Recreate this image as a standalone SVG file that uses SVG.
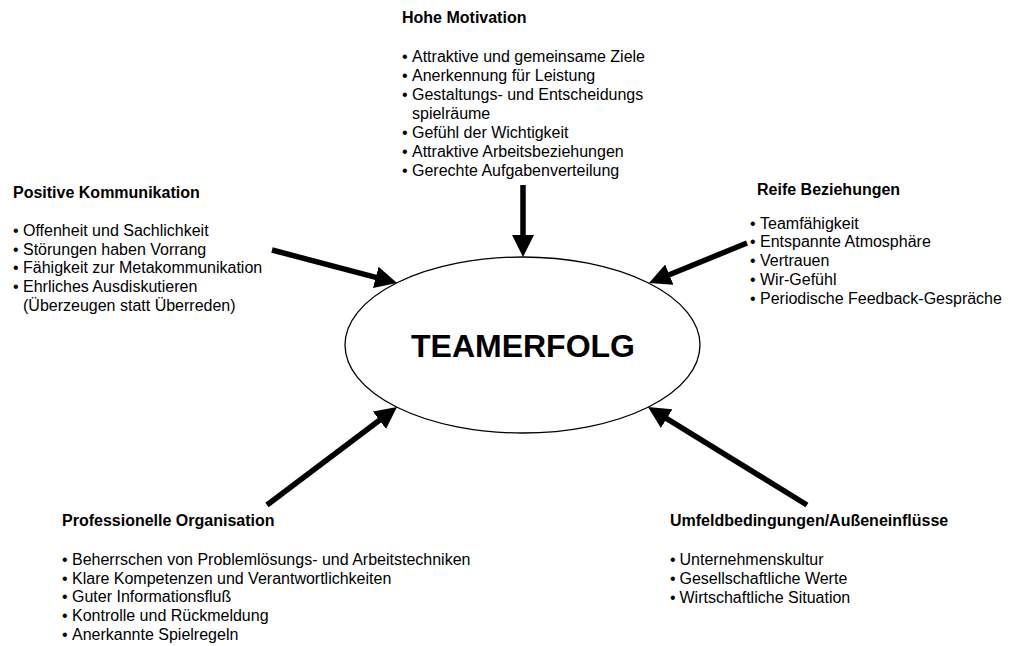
<svg xmlns="http://www.w3.org/2000/svg" width="1017" height="646" viewBox="0 0 1017 646">
<style>
text{font-family:"Liberation Sans",Arial,sans-serif;font-size:16px;fill:#000}
.h{font-weight:bold}
.t{font-size:32px;font-weight:bold}
.c{stroke:#000;stroke-width:5.5;fill:none}
</style>
<defs>
<marker id="ah" markerUnits="userSpaceOnUse" markerWidth="22" markerHeight="22" refX="10" refY="11" orient="auto">
<path d="M0,0 L22,11 L0,22 z" fill="#000"/>
</marker>
</defs>
<rect width="1017" height="646" fill="#fff"/>
<g id="center">
<ellipse cx="522.5" cy="345" rx="177.5" ry="88" fill="#fff" stroke="#000" stroke-width="1.3"/>
<text class="t" x="523" y="357" text-anchor="middle">TEAMERFOLG</text>
</g>
<g id="connectors">
<line class="c" x1="523" y1="185" x2="523" y2="245" marker-end="url(#ah)"/>
<line class="c" x1="272" y1="250" x2="385.4" y2="279.9" marker-end="url(#ah)"/>
<line class="c" x1="747" y1="243" x2="660.1" y2="278.5" marker-end="url(#ah)"/>
<line class="c" x1="267" y1="505" x2="387.4" y2="414.2" marker-end="url(#ah)"/>
<line class="c" x1="807" y1="505" x2="658.2" y2="413.3" marker-end="url(#ah)"/>
</g>
<g id="motivation">
<text class="h" x="402" y="23">Hohe Motivation</text>
<text x="402" y="62">•</text><text x="412" y="62">Attraktive und gemeinsame Ziele</text>
<text x="402" y="81">•</text><text x="412" y="81">Anerkennung für Leistung</text>
<text x="402" y="100">•</text><text x="412" y="100">Gestaltungs- und Entscheidungs</text>
<text x="412" y="119">spielräume</text>
<text x="402" y="138">•</text><text x="412" y="138">Gefühl der Wichtigkeit</text>
<text x="402" y="157">•</text><text x="412" y="157">Attraktive Arbeitsbeziehungen</text>
<text x="402" y="176">•</text><text x="412" y="176">Gerechte Aufgabenverteilung</text>
</g>
<g id="kommunikation">
<text class="h" x="13" y="198">Positive Kommunikation</text>
<text x="13" y="236">•</text><text x="23" y="236">Offenheit und Sachlichkeit</text>
<text x="13" y="254.5">•</text><text x="23" y="254.5">Störungen haben Vorrang</text>
<text x="13" y="273">•</text><text x="23" y="273">Fähigkeit zur Metakommunikation</text>
<text x="13" y="292">•</text><text x="23" y="292">Ehrliches Ausdiskutieren</text>
<text x="23" y="310.5">(Überzeugen statt Überreden)</text>
</g>
<g id="beziehungen">
<text class="h" x="757" y="195">Reife Beziehungen</text>
<text x="750" y="228.5">•</text><text x="760" y="228.5">Teamfähigkeit</text>
<text x="750" y="247.4">•</text><text x="760" y="247.4">Entspannte Atmosphäre</text>
<text x="750" y="266.3">•</text><text x="760" y="266.3">Vertrauen</text>
<text x="750" y="285.2">•</text><text x="760" y="285.2">Wir-Gefühl</text>
<text x="750" y="304.1">•</text><text x="760" y="304.1">Periodische Feedback-Gespräche</text>
</g>
<g id="organisation">
<text class="h" x="62" y="526">Professionelle Organisation</text>
<text x="62" y="565">•</text><text x="72" y="565">Beherrschen von Problemlösungs- und Arbeitstechniken</text>
<text x="62" y="583.5">•</text><text x="72" y="583.5">Klare Kompetenzen und Verantwortlichkeiten</text>
<text x="62" y="602">•</text><text x="72" y="602">Guter Informationsfluß</text>
<text x="62" y="621">•</text><text x="72" y="621">Kontrolle und Rückmeldung</text>
<text x="62" y="640">•</text><text x="72" y="640">Anerkannte Spielregeln</text>
</g>
<g id="umfeld">
<text class="h" x="670" y="526">Umfeldbedingungen/Außeneinflüsse</text>
<text x="670" y="565">•</text><text x="679.5" y="565">Unternehmenskultur</text>
<text x="670" y="584">•</text><text x="679.5" y="584">Gesellschaftliche Werte</text>
<text x="670" y="603">•</text><text x="679.5" y="603">Wirtschaftliche Situation</text>
</g>
</svg>
